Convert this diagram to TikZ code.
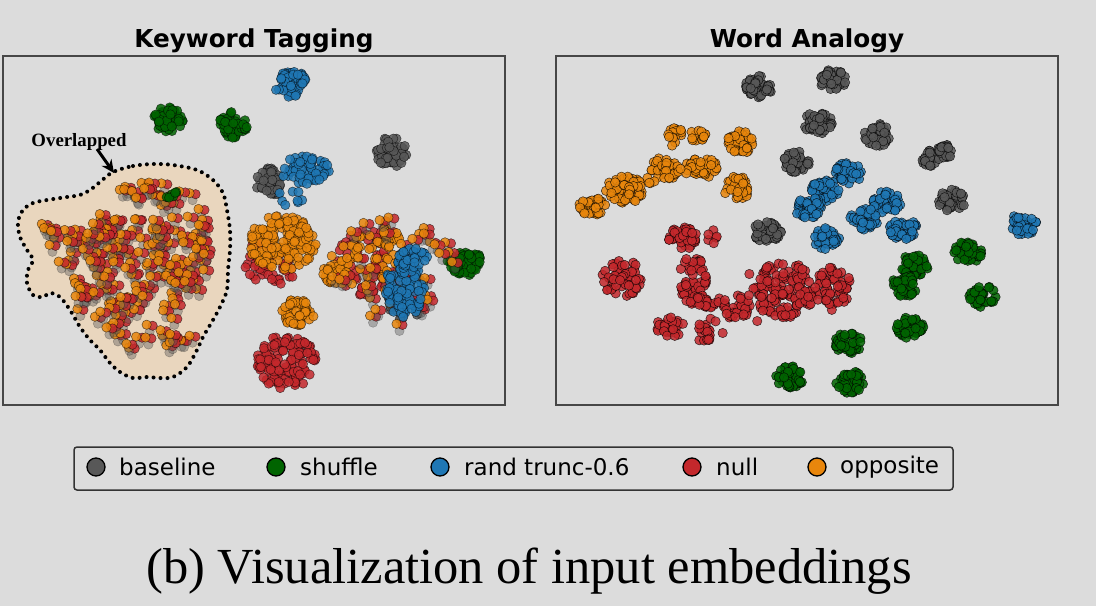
\documentclass[tikz,border=0pt]{standalone}
\usepackage{fontspec}
\setmainfont{Liberation Serif}
\newfontfamily\dejavu{DejaVu Sans}
\usetikzlibrary{arrows.meta}

\definecolor{bgcol}{RGB}{220,220,220}
\definecolor{basegray}{RGB}{88,88,88}
\definecolor{shufgreen}{RGB}{0,100,0}
\definecolor{randblue}{RGB}{31,119,180}
\definecolor{nullred}{RGB}{196,40,44}
\definecolor{oppor}{RGB}{232,134,12}
\definecolor{overfill}{RGB}{233,214,190}

\tikzset{
  emb/.style={fill=#1, fill opacity=0.85, draw=black, draw opacity=0.6, line width=0.5pt},
  frame/.style={draw=black!72, line width=1.5pt},
  plottitle/.style={font=\dejavu\bfseries\fontsize{24.7}{28}\selectfont, anchor=base},
  legdot/.style={circle, fill=#1, draw=black, line width=1.3pt, minimum size=18pt, inner sep=0pt},
  legtext/.style={font=\dejavu\fontsize{23}{26}\selectfont, anchor=west, inner sep=0pt}
}

% x y rx ry count colour
\newcommand\cluster[6]{%
  \foreach \k in {1,...,#5}{
    \pgfmathsetmacro\cang{360*rnd}
    \pgfmathsetmacro\crad{sqrt(rnd)}
    \path[emb=#6] ({#1+#3*\crad*cos(\cang)},{#2+#4*\crad*sin(\cang)}) circle[radius=4.7pt];
  }}
% x y rx ry rotation count: orange/red pairs with a grey shadow
\newcommand\pairs[6]{%
  \foreach \k in {1,...,#6}{
    \pgfmathsetmacro\cang{360*rnd}
    \pgfmathsetmacro\crad{sqrt(rnd)}
    \pgfmathsetmacro\cu{#3*\crad*cos(\cang)}
    \pgfmathsetmacro\cv{#4*\crad*sin(\cang)}
    \pgfmathsetmacro\px{#1+\cu*cos(#5)-\cv*sin(#5)}
    \pgfmathsetmacro\py{#2+\cu*sin(#5)+\cv*cos(#5)}
    \path[emb=basegray, fill opacity=0.4, draw opacity=0.25] (\px+3,\py+7) circle[radius=4.7pt];
    \path[emb=nullred] (\px+6,\py+1) circle[radius=4.7pt];
    \path[emb=oppor] (\px,\py) circle[radius=4.7pt];
  }}

\begin{document}
\begin{tikzpicture}[x=1pt,y=-1pt]
  \fill[bgcol] (0,0) rectangle (1096,606);
  \useasboundingbox (0,0) rectangle (1096,606);
  \pgfmathsetseed{11}

  % keyword tagging
  \node[plottitle] (kwt) at (254,47) {Keyword Tagging};
  \path[save path=\overlapp] plot[smooth cycle, tension=0.55] coordinates {
    (113,172) (133,166) (153,164) (173,165) (197,170) (213,180) (223,193)
    (227,210) (230,230) (230,250) (228,270) (227,290) (220,307) (213,320)
    (203,337) (197,350) (187,367) (173,377) (160,378) (147,377) (133,378)
    (120,372) (110,363) (100,350) (90,340) (80,327) (70,310) (60,297)
    (50,293) (43,297) (33,295) (27,283) (28,270) (33,260) (27,250)
    (20,237) (18,222) (23,210) (33,203) (47,200) (67,197) (80,195)
    (90,190) (100,182)};
  \path[use path=\overlapp, fill=overfill];
  \begin{scope}
    \clip[use path=\overlapp];
    \pairs{130}{283}{82}{58}{48}{125}
    \pairs{180}{238}{32}{52}{0}{50}
    \pairs{70}{240}{38}{24}{10}{30}
    \pairs{145}{190}{30}{10}{0}{14}
    \cluster{172}{196}{7}{5}{6}{shufgreen}
  \end{scope}
  \path[use path=\overlapp, draw, line width=4pt, dash pattern=on 0pt off 7pt, line cap=round];
  \node[font=\bfseries\fontsize{18.8}{20}\selectfont, anchor=base] (ovl) at (79,146) {Overlapped};
  \coordinate (ovtail) at (97,149);
  \coordinate (ovtip) at (114,173);
  \draw[-{Stealth[length=13pt,width=12pt]}, line width=3pt] (ovtail) -- (ovtip);

  \cluster{392}{152}{16}{15}{55}{basegray}
  \cluster{270}{183}{14}{15}{45}{basegray}
  \cluster{405}{292}{20}{30}{45}{basegray}
  \cluster{168}{120}{15}{13}{55}{shufgreen}
  \cluster{233}{125}{15}{13}{55}{shufgreen}
  \cluster{465}{263}{18}{13}{60}{shufgreen}
  \cluster{290}{83}{16}{14}{60}{randblue}
  \cluster{305}{170}{24}{14}{65}{randblue}
  \cluster{290}{198}{14}{8}{8}{randblue}
  \cluster{272}{262}{28}{24}{60}{nullred}
  \cluster{286}{362}{30}{27}{130}{nullred}
  \cluster{368}{262}{34}{34}{70}{nullred}
  \cluster{385}{235}{14}{10}{20}{nullred}
  \cluster{282}{243}{34}{28}{150}{oppor}
  \cluster{298}{313}{16}{15}{55}{oppor}
  \cluster{337}{273}{14}{12}{30}{oppor}
  \cluster{365}{265}{35}{30}{40}{oppor}
  \cluster{388}{238}{12}{10}{20}{oppor}
  \pairs{392}{270}{62}{55}{0}{45}
  \cluster{405}{288}{20}{30}{95}{randblue}
  \cluster{412}{258}{16}{10}{30}{randblue}
  \draw[frame] (3,56) rectangle (505,405);

  % word analogy
  \node[plottitle] (wat) at (807,47) {Word Analogy};
  \begin{scope}[emb/.append style={draw opacity=0.75}]
    \foreach \gx/\gy in {759/87, 832/80, 818/123, 878/135, 798/162, 952/200, 767/232}
      {\cluster{\gx}{\gy}{14}{11}{45}{basegray}}
    \cluster{930}{158}{9}{8}{22}{basegray}
    \cluster{946}{151}{9}{7}{22}{basegray}
    \foreach \bx/\by in {848/173, 825/191, 808/207, 887/202, 864/219, 903/229, 827/238, 1023/224}
      {\cluster{\bx}{\by}{14}{11}{45}{randblue}}
    \cluster{675}{135}{8}{8}{18}{oppor}
    \cluster{672}{147}{2}{2}{1}{oppor}
    \cluster{697}{136}{9}{7}{15}{oppor}
    \cluster{740}{142}{13}{12}{40}{oppor}
    \cluster{665}{168}{14}{12}{40}{oppor}
    \cluster{702}{167}{16}{11}{40}{oppor}
    \cluster{737}{188}{14}{12}{40}{oppor}
    \cluster{625}{190}{20}{14}{60}{oppor}
    \cluster{593}{207}{15}{9}{35}{oppor}
    \cluster{650}{180}{5}{5}{4}{oppor}
    \cluster{682}{172}{6}{4}{4}{oppor}
    \cluster{683}{238}{16}{11}{45}{nullred}
    \cluster{712}{237}{5}{8}{6}{nullred}
    \cluster{622}{278}{20}{19}{55}{nullred}
    \cluster{693}{280}{14}{24}{55}{nullred}
    \cluster{713}{301}{18}{8}{25}{nullred}
    \cluster{738}{308}{13}{13}{30}{nullred}
    \cluster{670}{327}{15}{10}{30}{nullred}
    \cluster{704}{333}{9}{9}{18}{nullred}
    \cluster{785}{290}{32}{28}{130}{nullred}
    \cluster{833}{288}{18}{22}{60}{nullred}
    \cluster{740}{295}{60}{40}{15}{nullred}
    \foreach \sx/\sy in {915/265, 905/286, 968/252, 982/296, 910/328, 848/343, 850/382, 790/377}
      {\cluster{\sx}{\sy}{14}{11}{45}{shufgreen}}
  \end{scope}
  \draw[frame] (556,56) rectangle (1058,405);

  % legend
  \draw[rounded corners=3pt, draw=black!80, line width=1.5pt] (74,447) rectangle (953,490);
  \node[legdot=basegray] (mkbase) at (96,467) {};
  \node[legtext] (lgbase) at (119,467) {baseline};
  \node[legdot=shufgreen] (mkshuf) at (276,467) {};
  \node[legtext] (lgshuf) at (300,467) {shuffle};
  \node[legdot=randblue] (mkrand) at (440,467) {};
  \node[legtext] (lgrand) at (464,467) {rand trunc-0.6};
  \node[legdot=nullred] (mknull) at (692,467) {};
  \node[legtext] (lgnull) at (716,467) {null};
  \node[legdot=oppor] (mkopp) at (817,467) {};
  \node[legtext] (lgopp) at (840,467) {opposite};

  \node[font=\fontsize{50.5}{56}\selectfont, anchor=base] (capt) at (529,583) {(b) Visualization of input embeddings};
\end{tikzpicture}
\end{document}
